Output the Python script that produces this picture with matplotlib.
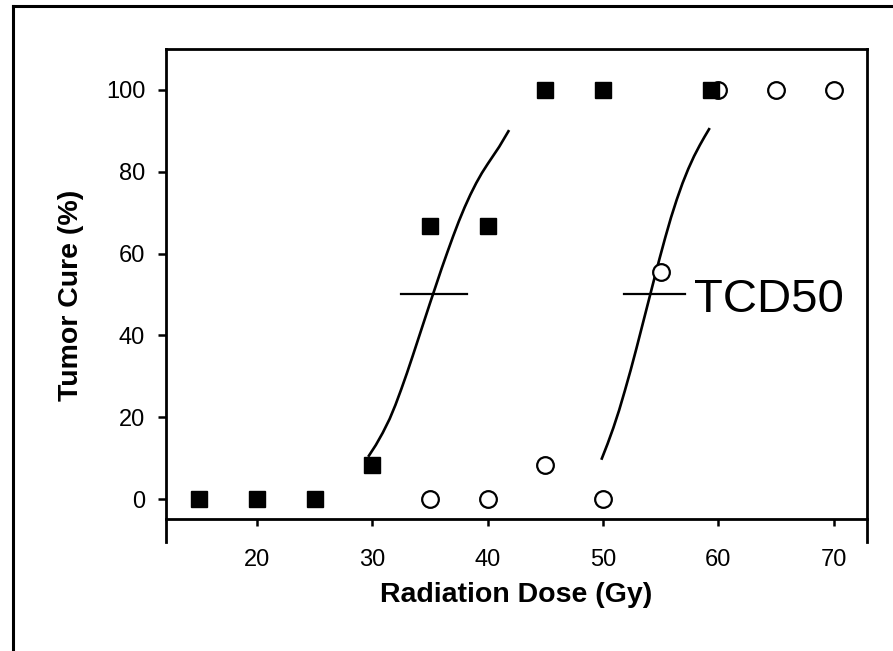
import matplotlib
matplotlib.use('Agg')
import matplotlib.pyplot as plt
from matplotlib.lines import Line2D

plt.rcParams['font.family'] = ['Liberation Sans', 'DejaVu Sans']

# 데이터
sq_dose = [15, 20, 25, 30, 35, 40, 45, 50, 59.4]
sq_cure = [0, 0, 0, 8.3, 66.7, 66.7, 100, 100, 100]

ci_dose = [35, 40, 45, 50, 55, 60, 65, 70]
ci_cure = [0, 0, 8.3, 0, 55.6, 100, 100, 100]

# fitted curves
fit1_dose = [29.7, 30.3, 30.9, 31.5, 32.0, 32.5, 33.0, 33.5, 34.0, 34.5, 35.0, 35.5, 36.0,
             36.5, 37.0, 37.5, 38.0, 38.5, 39.0, 39.5, 40.0, 40.5, 41.0, 41.4, 41.8]
fit1_cure = [10.6, 13.2, 16.2, 19.6, 23.0, 26.8, 30.8, 35.0, 39.3, 43.6, 47.9, 52.1, 56.3,
             60.3, 64.2, 67.9, 71.3, 74.4, 77.2, 79.7, 81.9, 84.0, 86.1, 88.0, 89.9]

fit2_dose = [49.9, 50.4, 50.9, 51.4, 51.9, 52.4, 52.9, 53.4, 53.9, 54.4, 54.9, 55.4, 55.9,
             56.4, 56.9, 57.4, 57.9, 58.4, 58.8, 59.2]
fit2_cure = [9.9, 13.5, 17.4, 21.7, 26.5, 31.5, 36.8, 42.3, 47.8, 53.3, 58.7, 63.9, 68.8,
             73.2, 77.2, 80.7, 83.8, 86.5, 88.5, 90.4]

tcd_x = [[32.5, 38.2], [51.8, 57.1]]
tcd_y = 50

fig = plt.figure(figsize=(8.93, 6.51), dpi=100)
ax = fig.add_axes([166/893, 109/651, 701/893, 493/651])

ax.plot(fit1_dose, fit1_cure, color='black', lw=1.9)
ax.plot(fit2_dose, fit2_cure, color='black', lw=1.9)
for seg in tcd_x:
    ax.plot(seg, [tcd_y, tcd_y], color='black', lw=1.6)

ax.plot(ci_dose, ci_cure, 'o', ms=12, mfc='white', mec='black', mew=1.6, ls='none')
ax.plot(sq_dose, sq_cure, 's', ms=11.5, mfc='black', mec='black', ls='none')

ax.text(57.9, 45.7, 'TCD50', fontsize=34, ha='left', va='baseline')

ax.set_xlim(12.1, 72.9)
ax.set_ylim(-10.5, 110)
ax.spines['bottom'].set_position(('data', -5))
for s in ax.spines.values():
    s.set_linewidth(2.0)

ax.set_xticks([20, 30, 40, 50, 60, 70])
ax.set_yticks([0, 20, 40, 60, 80, 100])
ax.tick_params(axis='x', direction='out', length=5, width=1.8, labelsize=17, pad=16)
ax.tick_params(axis='y', direction='out', length=6, width=1.8, labelsize=17, pad=9)

ax.set_xlabel('Radiation Dose (Gy)', fontsize=20.5, fontweight='bold')
ax.set_ylabel('Tumor Cure (%)', fontsize=20.5, fontweight='bold')
ax.xaxis.set_label_coords(0.5, -0.082)
ax.yaxis.set_label_coords(-0.117, 0.5)

# outer frame (left and top only, the rest is cropped)
fig.add_artist(Line2D([13/893, 13/893], [0, 1 - 6/651], color='black', lw=2.2, transform=fig.transFigure))
fig.add_artist(Line2D([13/893, 1], [1 - 6/651, 1 - 6/651], color='black', lw=2.2, transform=fig.transFigure))

fig.savefig('out.png', dpi=100)
